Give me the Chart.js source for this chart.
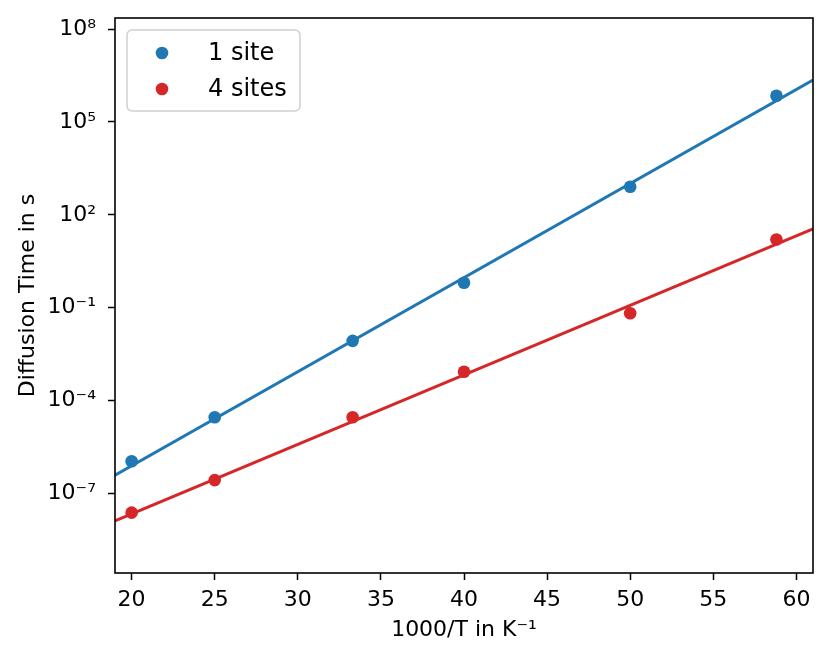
<!DOCTYPE html>
<html>
<head>
<meta charset="utf-8">
<script src="https://cdn.jsdelivr.net/npm/chart.js@4"></script>
<style>
  body { margin: 0; background: #fff; }
  #wrap { width: 831px; height: 663px; }
</style>
</head>
<body>
<div id="wrap"><canvas id="diffusionChart"></canvas></div>
<script>
// values
const tempInv = [20, 25, 33.3, 40, 50, 58.8];          // 1000/T in K^-1
const oneSite = [1.1e-6, 2.9e-5, 8.5e-3, 0.64, 805, 7.0e5];
const fourSites = [2.4e-8, 2.7e-7, 2.9e-5, 8.5e-4, 0.066, 16];

// fitted lines, end points at the axis limits
const fitX = [19, 61];
const oneSiteFit = [3.9e-7, 2.26e6];
const fourSitesFit = [1.3e-8, 35.4];

const xTicks = [20, 25, 30, 35, 40, 45, 50, 55, 60];
const yTickValues = [1e-7, 1e-4, 1e-1, 1e2, 1e5, 1e8];
const yTickLabels = ["10⁻⁷", "10⁻⁴", "10⁻¹", "10²", "10⁵", "10⁸"];

const xRange = [19, 61];
const yRange = [2.7e-10, 2.27e8];

const blue = "#1f77b4";
const red = "#d62728";
const font = "'DejaVu Sans', sans-serif";

function pairs(xs, ys) {
  return xs.map(function (x, i) { return { x: x, y: ys[i] }; });
}

// full black frame + legend box inside the plot
const framePlugin = {
  id: "frame",
  afterDatasetsDraw(chart) {
    const { ctx, chartArea: a } = chart;
    ctx.save();
    ctx.strokeStyle = "#000";
    ctx.lineWidth = 1.6;
    ctx.strokeRect(a.left, a.top, a.right - a.left, a.bottom - a.top);

    // legend
    const items = [
      { label: chart.data.datasets[0].label, color: blue },
      { label: chart.data.datasets[1].label, color: red },
    ];
    const bx = a.left + 12, by = a.top + 12, bw = 173, bh = 81;
    ctx.beginPath();
    ctx.roundRect(bx, by, bw, bh, 5);
    ctx.fillStyle = "rgba(255,255,255,0.8)";
    ctx.fill();
    ctx.strokeStyle = "#d0d0d0";
    ctx.lineWidth = 1.5;
    ctx.stroke();
    ctx.font = "24px " + font;
    ctx.textBaseline = "middle";
    items.forEach(function (it, i) {
      const cy = by + 23 + i * 36;
      ctx.beginPath();
      ctx.arc(bx + 35, cy, 6.3, 0, Math.PI * 2);
      ctx.fillStyle = it.color;
      ctx.fill();
      ctx.fillStyle = "#000";
      ctx.fillText(it.label, bx + 81, cy + 1);
    });
    ctx.restore();
  },
};

Chart.defaults.color = "#000";
Chart.defaults.font.family = font;

function noOverflow(scale) {
  scale.paddingTop = 0;
  scale.paddingBottom = 0;
  scale.paddingLeft = 0;
  scale.paddingRight = 0;
}

const ctx = document.getElementById("diffusionChart").getContext("2d");
new Chart(ctx, {
  type: "scatter",
  data: {
    datasets: [
      {
        label: "1 site",
        data: pairs(tempInv, oneSite),
        backgroundColor: blue,
        borderColor: blue,
        pointRadius: 6.3,
        pointBorderWidth: 0,
        order: 2,
      },
      {
        label: "4 sites",
        data: pairs(tempInv, fourSites),
        backgroundColor: red,
        borderColor: red,
        pointRadius: 6.3,
        pointBorderWidth: 0,
        order: 2,
      },
      {
        label: "1 site fit",
        data: pairs(fitX, oneSiteFit),
        showLine: true,
        borderColor: blue,
        borderWidth: 3,
        pointRadius: 0,
        order: 1,
      },
      {
        label: "4 sites fit",
        data: pairs(fitX, fourSitesFit),
        showLine: true,
        borderColor: red,
        borderWidth: 3,
        pointRadius: 0,
        order: 1,
      },
    ],
  },
  options: {
    responsive: true,
    maintainAspectRatio: false,
    animation: false,
    layout: { padding: { left: 0, top: 18, right: 18, bottom: 0 } },
    scales: {
      x: {
        type: "linear",
        min: xRange[0],
        max: xRange[1],
        afterBuildTicks: function (scale) {
          scale.ticks = xTicks.map(function (v) { return { value: v }; });
        },
        afterFit: function (scale) { scale.height = 90; noOverflow(scale); },
        grid: { drawOnChartArea: false, tickLength: 7, tickColor: "#000", tickWidth: 1.5 },
        border: { display: false },
        ticks: { font: { size: 22 }, padding: 7, maxRotation: 0 },
        title: {
          display: true,
          text: "1000/T in K⁻¹",
          font: { size: 22 },
          padding: { top: 0, bottom: 20 },
        },
      },
      y: {
        type: "logarithmic",
        min: yRange[0],
        max: yRange[1],
        afterBuildTicks: function (scale) {
          scale.ticks = yTickValues.map(function (v) { return { value: v }; });
        },
        afterFit: function (scale) { scale.width = 115; noOverflow(scale); },
        grid: { drawOnChartArea: false, tickLength: 7, tickColor: "#000", tickWidth: 1.5 },
        border: { display: false },
        ticks: {
          font: { size: 22 },
          padding: 12,
          callback: function (value) {
            const i = yTickValues.findIndex(function (v) { return Math.abs(v / value - 1) < 1e-6; });
            return i >= 0 ? yTickLabels[i] : "";
          },
        },
        title: {
          display: true,
          text: "Diffusion Time in s",
          font: { size: 22 },
          padding: { top: 15, bottom: 0 },
        },
      },
    },
    plugins: {
      legend: { display: false },
      tooltip: { enabled: false },
    },
  },
  plugins: [framePlugin],
});
</script>
</body>
</html>
